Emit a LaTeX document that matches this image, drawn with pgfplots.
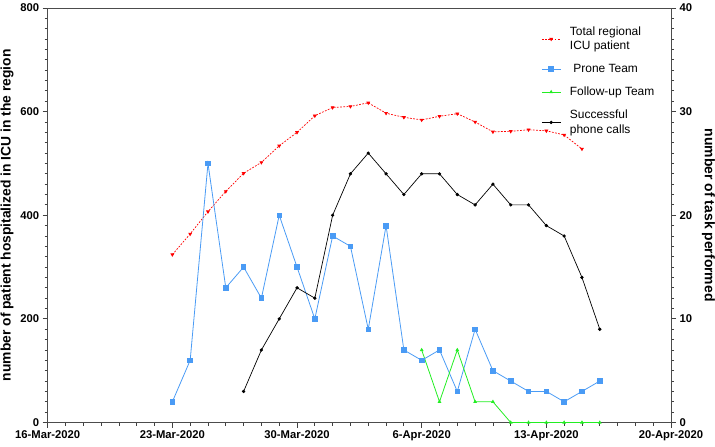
\documentclass[border=0pt]{standalone}
\usepackage{fontspec}
\setmainfont{Liberation Sans}
\usepackage{pgfplots}
\pgfplotsset{compat=1.18}
\definecolor{pblue}{HTML}{4A9BF5}
\definecolor{fgreen}{HTML}{22EE22}
\pgfplotsset{
  common/.style={
    scale only axis, width=623.3bp, height=414.5bp,
    xmin=0, xmax=35,
    tick align=outside,
    major tick length=5bp, minor tick length=3bp,
    tick style={black!75, line width=0.8pt},
    axis line style={black!70, line width=0.9pt},
    /pgf/number format/assume math mode=true,
    tick label style={font=\bfseries\fontsize{11.3}{13}\selectfont},
    label style={font=\bfseries\fontsize{13.9}{16}\selectfont},
  }
}
\begin{document}
\begin{tikzpicture}
\path[use as bounding box] (-47.7bp,-24.5bp) rectangle (667.3bp,422.5bp);
\begin{axis}[common,
  ymin=0, ymax=800,
  xtick={0,7,14,21,28,35},
  xticklabels={16-Mar-2020,23-Mar-2020,30-Mar-2020,6-Apr-2020,13-Apr-2020,20-Apr-2020},
  minor x tick num=6,
  ytick={0,200,400,600,800}, minor y tick num=9,
  xtick pos=left, ytick pos=left,
  ylabel={number of patient hospitalized in ICU in the region},
  clip=false,
]
\addplot[red, line width=0.7pt, dash pattern=on 1.8bp off 1.4bp, mark=triangle*, mark size=1.6pt, mark options={solid, rotate=180}]
coordinates {(7,324) (8,364) (9,407) (10,446) (11,481) (12,502) (13,534) (14,560) (15,592) (16,608) (17,610) (18,617) (19,597) (20,589) (21,584) (22,591) (23,596) (24,580) (25,561) (26,562) (27,565) (28,563) (29,555) (30,528)};
\end{axis}
\begin{axis}[common,
  ymin=0, ymax=40,
  axis x line=none,
  axis y line*=right,
  ytick={0,10,20,30,40}, minor y tick num=9,
  ytick pos=right,
  ylabel={number of task performed},
  ylabel style={rotate=180, yshift=3bp, font=\bfseries\fontsize{14}{16}\selectfont},
  clip=false,
  legend cell align=left,
  legend image code/.code={%
    \draw[mark repeat=2,mark phase=2,#1] plot coordinates {(0cm,0cm) (0.33cm,0cm) (0.66cm,0cm)};
    \path (0.66cm+7bp,0cm);},
  legend style={at={(0.787,0.965)}, anchor=north west, draw=none, fill=none,
    font=\fontsize{12}{14.5}\selectfont, cells={align=left}, row sep=9bp},
]
\addlegendimage{red, line width=0.7pt, dash pattern=on 1.8bp off 1.4bp, mark=triangle*, mark size=1.6pt, mark options={solid, rotate=180}}
\addlegendentry{Total regional\\ICU patient}
\addplot[pblue, line width=0.8pt, mark=square*, mark size=2.3pt]
coordinates {(7,2) (8,6) (9,25) (10,13) (11,15) (12,12) (13,20) (14,15) (15,10) (16,18) (17,17) (18,9) (19,19) (20,7) (21,6) (22,7) (23,3) (24,9) (25,5) (26,4) (27,3) (28,3) (29,2) (30,3) (31,4)};
\addlegendentry{\hspace{3.5bp}Prone Team}
\addplot[fgreen, line width=0.8pt, mark=triangle*, mark size=1.4pt]
coordinates {(21,7) (22,2) (23,7) (24,2) (25,2) (26,0) (27,0) (28,0) (29,0) (30,0) (31,0)};
\addlegendentry{Follow-up Team}
\addplot[black, line width=0.7pt, mark=*, mark size=1.3pt]
coordinates {(11,3) (12,7) (13,10) (14,13) (15,12) (16,20) (17,24) (18,26) (19,24) (20,22) (21,24) (22,24) (23,22) (24,21) (25,23) (26,21) (27,21) (28,19) (29,18) (30,14) (31,9)};
\addlegendentry{Successful\\phone calls}
\end{axis}
\end{tikzpicture}
\end{document}
